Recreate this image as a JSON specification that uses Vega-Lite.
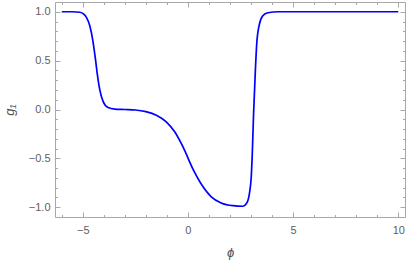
{
  "$schema": "https://vega.github.io/schema/vega-lite/v6.json",
  "width": 350,
  "height": 215,
  "autosize": "none",
  "padding": {"left": 55, "top": 2, "right": 2, "bottom": 43},
  "config": {
    "view": {"stroke": "#a8a8a8", "strokeWidth": 1},
    "axis": {
      "domain": false,
      "grid": false,
      "labelFont": "Liberation Sans",
      "labelFontSize": 11,
      "labelColor": "#606060",
      "tickColor": "#a8a8a8",
      "tickWidth": 1,
      "titleFont": "Liberation Sans",
      "titleFontStyle": "italic",
      "titleFontWeight": "normal",
      "titleFontSize": 13,
      "titleColor": "#505050"
    }
  },
  "data": {
    "values": [
      {"phi": -6.0, "g": 1.0},
      {"phi": -5.5, "g": 1.0},
      {"phi": -5.14, "g": 0.995},
      {"phi": -4.95, "g": 0.975},
      {"phi": -4.82, "g": 0.94},
      {"phi": -4.67, "g": 0.86},
      {"phi": -4.51, "g": 0.69},
      {"phi": -4.40, "g": 0.52},
      {"phi": -4.30, "g": 0.35},
      {"phi": -4.19, "g": 0.2},
      {"phi": -4.03, "g": 0.08},
      {"phi": -3.8, "g": 0.02},
      {"phi": -3.48, "g": 0.004},
      {"phi": -3.0, "g": 0.0},
      {"phi": -2.5, "g": -0.005},
      {"phi": -2.0, "g": -0.022},
      {"phi": -1.5, "g": -0.058},
      {"phi": -1.03, "g": -0.126},
      {"phi": -0.63, "g": -0.228},
      {"phi": -0.24, "g": -0.38},
      {"phi": 0.24, "g": -0.61},
      {"phi": 0.64, "g": -0.765},
      {"phi": 1.11, "g": -0.893},
      {"phi": 1.58, "g": -0.956},
      {"phi": 2.14, "g": -0.984},
      {"phi": 2.61, "g": -0.99},
      {"phi": 2.8, "g": -0.956},
      {"phi": 2.93, "g": -0.85},
      {"phi": 3.01, "g": -0.69},
      {"phi": 3.06, "g": -0.45},
      {"phi": 3.12, "g": -0.05},
      {"phi": 3.2, "g": 0.37},
      {"phi": 3.27, "g": 0.67},
      {"phi": 3.4, "g": 0.875},
      {"phi": 3.56, "g": 0.96},
      {"phi": 3.8, "g": 0.99},
      {"phi": 4.3, "g": 1.0},
      {"phi": 10.0, "g": 1.0}
    ]
  },
  "layer": [
    {
      "mark": {"type": "line", "color": "#0000ff", "strokeWidth": 1.7, "interpolate": "monotone", "clip": true},
      "encoding": {
        "x": {
          "field": "phi", "type": "quantitative",
          "scale": {"domain": [-6.32, 10.32], "nice": false, "zero": false},
          "axis": {
            "orient": "bottom",
            "title": "ϕ",
            "titleX": 175, "titleY": 35, "titleBaseline": "middle", "titleAlign": "center",
            "values": [-6, -5, -4, -3, -2, -1, 0, 1, 2, 3, 4, 5, 6, 7, 8, 9, 10],
            "labelExpr": "datum.value % 5 === 0 ? format(datum.value, 'd') : ''",
            "tickSize": {"condition": {"test": "datum.value % 5 === 0", "value": -5}, "value": -2.5},
            "labelPadding": 12,
            "labelFlush": false,
            "labelOverlap": false
          }
        },
        "y": {
          "field": "g", "type": "quantitative",
          "scale": {"domain": [-1.1, 1.1], "nice": false, "zero": false},
          "axis": {
            "orient": "left",
            "title": "g₁",
            "titleX": -46, "titleY": 107.5, "titleBaseline": "middle", "titleAlign": "center",
            "values": [-1.0, -0.9, -0.8, -0.7, -0.6, -0.5, -0.4, -0.3, -0.2, -0.1, 0.0, 0.1, 0.2, 0.3, 0.4, 0.5, 0.6, 0.7, 0.8, 0.9, 1.0],
            "labelExpr": "abs(round(datum.value * 10)) % 5 === 0 ? format(datum.value, '.1f') : ''",
            "tickSize": {"condition": {"test": "abs(round(datum.value * 10)) % 5 === 0", "value": -5}, "value": -2.5},
            "labelPadding": 10,
            "labelFlush": false,
            "labelOverlap": false
          }
        }
      }
    },
    {
      "mark": {"type": "line", "opacity": 0},
      "encoding": {
        "x": {
          "field": "phi", "type": "quantitative",
          "scale": {"domain": [-6.32, 10.32], "nice": false, "zero": false},
          "axis": {
            "orient": "top", "title": null, "labels": false,
            "values": [-6, -5, -4, -3, -2, -1, 0, 1, 2, 3, 4, 5, 6, 7, 8, 9, 10],
            "tickSize": {"condition": {"test": "datum.value % 5 === 0", "value": -5}, "value": -2.5}
          }
        },
        "y": {
          "field": "g", "type": "quantitative",
          "scale": {"domain": [-1.1, 1.1], "nice": false, "zero": false},
          "axis": {
            "orient": "right", "title": null, "labels": false,
            "values": [-1.0, -0.9, -0.8, -0.7, -0.6, -0.5, -0.4, -0.3, -0.2, -0.1, 0.0, 0.1, 0.2, 0.3, 0.4, 0.5, 0.6, 0.7, 0.8, 0.9, 1.0],
            "tickSize": {"condition": {"test": "abs(round(datum.value * 10)) % 5 === 0", "value": -5}, "value": -2.5}
          }
        }
      }
    }
  ],
  "resolve": {"axis": {"x": "independent", "y": "independent"}}
}
